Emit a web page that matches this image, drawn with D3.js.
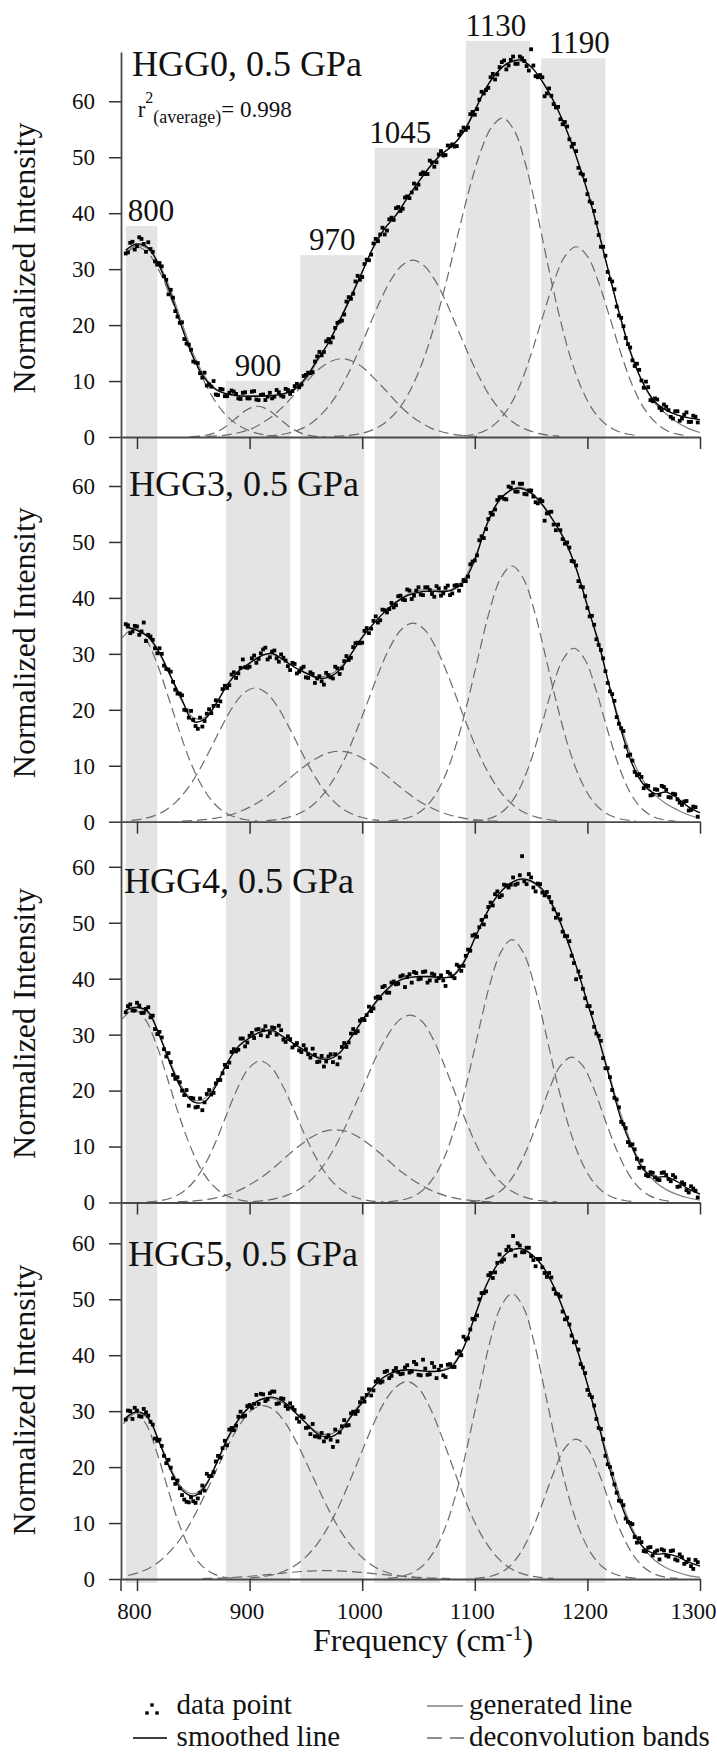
<!DOCTYPE html>
<html>
<head>
<meta charset="utf-8">
<script src="https://cdn.jsdelivr.net/npm/d3@7"></script>
<style>
body { margin: 0; background: #fff; }
text { font-family: "Liberation Serif", "Times New Roman", serif; fill: #111; }
</style>
</head>
<body>
<script>
// ---- data ----
var panelNames = ["HGG0, 0.5 GPa", "HGG3, 0.5 GPa", "HGG4, 0.5 GPa", "HGG5, 0.5 GPa"];
var yTicks = [0, 10, 20, 30, 40, 50, 60];
var xTicks = [800, 900, 1000, 1100, 1200, 1300];
var peakLabels = ["800", "900", "970", "1045", "1130", "1190"];
var peakBands = [[790, 818], [879, 936], [945, 1002], [1011, 1069], [1092, 1149], [1159, 1216]];
var peakBandTops = [37.7, 10, 32.5, 51.7, 70.8, 67.7];

// frequency grids (cm-1)
var lineFreq = d3.range(790, 1301, 10);
var pointFreqA = d3.range(790, 1299, 4);
var pointFreqB = d3.range(792, 1297, 4);

// measured points, two interleaved sets per sample
var pointsA0 = [32.8, 34.7, 33.5, 35.7, 34.5, 34.8, 33.1, 30.8, 30.5, 28.1,
  26.3, 22.5, 20.4, 17.5, 16.5, 13.5, 13.2, 10.6, 9.2, 9.0,
  7.6, 8.6, 7.3, 7.9, 8.1, 6.9, 7.9, 6.9, 8.1, 6.7,
  7.5, 6.6, 7.9, 7.2, 8.0, 7.2, 8.4, 8.2, 9.5, 9.4,
  11.1, 11.4, 13.5, 15.2, 15.2, 17.5, 17.8, 20.4, 20.8, 24.2,
  24.7, 27.8, 28.1, 30.9, 31.6, 34.6, 35.0, 37.4, 36.9, 39.2,
  40.9, 40.4, 42.8, 42.7, 45.3, 45.1, 47.3, 47.0, 49.1, 49.1,
  51.1, 50.4, 52.0, 51.9, 54.0, 55.3, 55.3, 58.1, 58.6, 61.7,
  62.0, 64.3, 63.9, 66.1, 67.3, 66.4, 68.0, 66.7, 67.7, 66.3,
  69.3, 64.5, 64.7, 60.9, 62.3, 59.5, 59.0, 55.9, 55.5, 51.9,
  51.1, 47.1, 45.9, 42.1, 40.4, 36.1, 34.0, 29.5, 27.8, 23.3,
  21.3, 17.7, 16.0, 12.7, 12.0, 8.8, 8.9, 6.4, 6.7, 4.8,
  5.4, 3.6, 4.6, 2.9, 4.0, 2.7, 3.8, 2.6];
var pointsB0 = [33.0, 34.9, 34.1, 35.4, 33.1, 33.6, 31.4, 31.1, 28.7, 25.5,
  24.9, 21.5, 20.5, 16.7, 15.6, 13.3, 11.4, 11.5, 9.4, 10.0,
  7.5, 8.5, 7.3, 8.3, 7.7, 6.8, 8.0, 6.9, 8.2, 6.6,
  7.6, 7.2, 6.9, 8.4, 7.4, 8.6, 7.7, 9.1, 8.9, 10.9,
  11.5, 11.6, 14.4, 14.6, 17.1, 16.9, 19.5, 20.6, 21.9, 25.0,
  25.6, 28.8, 28.6, 31.7, 32.6, 35.4, 36.2, 36.2, 38.9, 38.8,
  41.1, 40.8, 43.0, 43.7, 44.4, 47.0, 47.0, 49.4, 48.3, 50.5,
  50.3, 52.1, 52.3, 52.0, 54.6, 54.9, 57.7, 57.6, 60.3, 61.4,
  62.4, 64.9, 64.8, 67.0, 65.7, 67.4, 66.7, 68.0, 67.2, 65.5,
  66.4, 64.3, 64.3, 61.4, 61.0, 58.9, 56.8, 56.3, 53.2, 52.4,
  48.1, 46.9, 43.4, 41.8, 38.3, 34.0, 32.4, 28.2, 26.4, 21.7,
  19.8, 16.6, 13.7, 13.1, 10.1, 9.9, 6.6, 6.9, 5.2, 5.8,
  4.8, 3.3, 4.6, 3.3, 4.4, 2.7, 3.6];
var pointsA1 = [35.3, 33.7, 35.0, 33.4, 35.6, 33.4, 32.5, 30.1, 30.0, 27.3,
  26.8, 23.6, 22.9, 20.0, 18.6, 18.2, 16.6, 17.0, 19.3, 19.4,
  21.7, 21.5, 24.3, 24.4, 26.7, 26.5, 29.0, 27.5, 29.2, 28.4,
  30.1, 31.1, 29.4, 30.6, 28.6, 29.3, 27.8, 28.4, 26.5, 27.4,
  25.8, 26.7, 24.8, 26.0, 24.5, 26.2, 25.6, 27.4, 27.4, 29.6,
  29.3, 31.9, 31.9, 34.1, 33.7, 35.9, 35.6, 37.9, 37.4, 39.1,
  38.7, 40.4, 39.6, 41.3, 40.4, 41.9, 40.5, 41.9, 40.7, 42.1,
  40.4, 41.8, 40.5, 42.2, 41.3, 43.2, 43.8, 46.5, 47.6, 51.0,
  52.3, 55.2, 55.8, 58.0, 57.7, 59.9, 60.6, 59.0, 60.4, 58.5,
  59.2, 57.1, 57.6, 53.8, 55.3, 53.1, 53.1, 50.5, 49.9, 46.6,
  45.8, 42.0, 40.3, 36.7, 35.2, 31.6, 29.2, 24.8, 22.8, 18.7,
  16.7, 13.4, 12.0, 8.9, 8.5, 6.0, 6.4, 4.8, 5.7, 6.4,
  5.7, 4.3, 4.9, 3.4, 3.6, 2.0, 2.7, 0.9];
var pointsB1 = [35.1, 34.0, 34.9, 34.0, 32.3, 33.1, 31.0, 31.0, 27.9, 27.2,
  25.0, 22.9, 22.6, 19.9, 19.8, 17.1, 18.6, 18.0, 20.1, 20.7,
  20.7, 23.7, 23.9, 26.3, 25.7, 27.5, 27.6, 27.7, 29.7, 29.1,
  30.8, 29.0, 30.4, 29.2, 29.9, 28.8, 27.1, 28.2, 26.8, 27.7,
  25.7, 26.4, 25.6, 25.1, 26.6, 25.8, 27.7, 26.4, 28.7, 28.9,
  31.2, 32.0, 32.0, 34.6, 34.5, 36.7, 36.0, 37.8, 38.0, 38.3,
  40.3, 39.7, 41.5, 39.8, 41.3, 40.6, 41.9, 41.4, 40.2, 41.7,
  40.8, 42.2, 40.8, 42.3, 42.3, 43.0, 46.0, 46.7, 50.3, 50.7,
  54.1, 54.9, 57.5, 58.0, 57.6, 59.7, 59.0, 60.4, 58.6, 59.2,
  58.1, 56.9, 57.3, 55.1, 55.4, 52.1, 52.1, 49.7, 49.0, 46.5,
  43.0, 41.9, 38.2, 36.8, 32.6, 30.7, 26.9, 23.3, 21.6, 17.5,
  16.2, 11.8, 10.9, 8.3, 8.0, 6.5, 4.7, 5.8, 4.8, 6.2,
  4.4, 5.0, 4.0, 3.0, 3.7, 2.1, 2.6];
var pointsA2 = [34.0, 35.4, 34.3, 35.2, 33.9, 34.9, 33.4, 30.1, 29.5, 26.1,
  25.1, 22.1, 21.5, 19.2, 17.3, 18.6, 17.1, 16.5, 19.4, 19.3,
  21.3, 21.9, 24.6, 25.0, 27.4, 27.3, 29.3, 28.6, 30.3, 30.9,
  29.9, 31.5, 30.3, 31.2, 31.6, 29.1, 29.7, 27.7, 28.5, 26.9,
  27.4, 25.9, 26.4, 25.2, 24.3, 26.1, 25.1, 24.7, 27.8, 27.8,
  30.2, 30.3, 32.5, 32.6, 35.0, 34.7, 36.8, 38.5, 37.5, 39.3,
  39.0, 40.4, 38.5, 40.8, 41.2, 39.9, 41.2, 39.3, 40.9, 39.6,
  40.6, 38.7, 40.9, 40.1, 42.2, 42.3, 45.2, 47.7, 47.5, 50.5,
  51.1, 53.6, 55.1, 54.6, 56.8, 56.3, 58.1, 57.0, 61.9, 56.9,
  58.1, 55.6, 56.9, 54.9, 54.6, 52.4, 51.5, 48.4, 47.6, 44.1,
  39.9, 40.3, 36.5, 35.1, 31.4, 29.8, 25.8, 24.0, 20.1, 18.4,
  14.4, 13.3, 10.2, 9.5, 6.2, 6.2, 4.7, 5.3, 4.1, 5.3,
  4.9, 3.8, 4.5, 2.9, 3.3, 1.8, 2.5, 0.9];
var pointsB2 = [35.1, 34.3, 35.7, 33.9, 34.6, 33.1, 31.0, 30.5, 27.4, 26.7,
  22.8, 22.4, 20.0, 20.1, 18.7, 17.0, 18.6, 17.9, 20.1, 19.6,
  21.9, 23.1, 24.2, 26.9, 27.0, 29.3, 27.9, 29.8, 29.4, 31.0,
  30.8, 29.7, 31.3, 30.0, 30.8, 28.7, 29.2, 28.1, 27.2, 28.1,
  26.5, 27.5, 25.1, 26.2, 25.2, 26.5, 26.5, 25.9, 28.5, 28.6,
  31.0, 30.6, 32.8, 33.5, 34.2, 36.6, 36.5, 38.7, 37.5, 39.5,
  39.1, 40.6, 40.3, 39.3, 41.0, 40.0, 41.3, 39.7, 40.7, 40.1,
  39.7, 41.2, 40.4, 42.5, 41.4, 44.1, 45.0, 47.9, 49.2, 49.7,
  52.8, 53.1, 55.6, 54.9, 56.7, 56.8, 56.8, 58.5, 57.4, 58.7,
  56.3, 57.0, 55.4, 55.5, 53.7, 50.9, 50.6, 47.6, 46.7, 42.8,
  41.3, 38.2, 35.1, 33.9, 30.2, 28.9, 24.0, 22.4, 18.7, 17.0,
  14.0, 10.8, 10.4, 7.8, 7.5, 4.9, 5.4, 4.5, 4.0, 5.4,
  4.2, 4.9, 2.8, 3.6, 2.2, 2.9, 2.1];
var pointsA3 = [28.5, 30.0, 30.6, 29.1, 30.4, 29.2, 27.6, 24.7, 23.8, 20.7,
  19.9, 17.0, 16.2, 14.2, 13.7, 13.9, 14.4, 16.7, 18.8, 18.4,
  21.0, 21.7, 24.7, 26.7, 26.6, 29.0, 29.0, 30.9, 30.6, 32.9,
  33.1, 31.8, 33.2, 33.5, 31.4, 32.2, 30.4, 30.7, 28.7, 29.2,
  27.0, 25.9, 25.5, 25.3, 24.6, 25.7, 23.6, 24.6, 27.3, 27.4,
  29.6, 29.5, 31.6, 31.7, 33.9, 33.7, 35.7, 35.3, 37.2, 36.3,
  37.7, 36.6, 37.8, 36.9, 38.8, 36.5, 39.2, 36.5, 38.6, 35.9,
  38.1, 36.1, 38.4, 37.9, 40.7, 43.3, 43.0, 46.5, 47.1, 51.1,
  51.4, 54.7, 54.8, 58.0, 57.1, 59.4, 61.3, 60.0, 58.4, 59.2,
  57.7, 55.9, 57.2, 54.7, 54.7, 51.8, 50.9, 47.8, 46.7, 43.5,
  42.4, 38.4, 36.8, 32.9, 31.0, 27.0, 25.0, 20.5, 18.8, 15.4,
  13.9, 10.8, 10.0, 7.5, 7.3, 5.0, 5.6, 4.2, 5.1, 5.3,
  4.2, 5.0, 3.5, 4.4, 2.7, 3.5, 1.8, 3.0];
var pointsB3 = [30.1, 28.6, 30.1, 29.0, 29.8, 28.1, 25.1, 24.9, 22.0, 21.3,
  18.0, 17.6, 15.0, 13.8, 14.6, 13.6, 15.4, 15.8, 18.4, 19.1,
  22.0, 23.4, 23.9, 27.0, 27.4, 29.9, 29.2, 31.1, 31.3, 31.3,
  33.0, 32.1, 33.5, 31.3, 32.3, 30.9, 31.4, 30.2, 28.1, 28.9,
  27.1, 27.7, 25.5, 26.1, 25.3, 24.9, 26.7, 26.2, 28.4, 27.5,
  29.9, 30.0, 32.3, 32.9, 32.8, 35.3, 35.1, 37.0, 35.9, 37.2,
  37.0, 36.7, 38.2, 37.1, 38.4, 36.4, 37.6, 36.6, 37.9, 37.4,
  36.4, 38.3, 37.9, 40.3, 40.0, 42.8, 44.6, 46.4, 50.0, 51.1,
  54.3, 53.8, 56.5, 56.7, 58.8, 58.8, 57.8, 59.6, 58.4, 59.2,
  57.0, 57.2, 55.7, 54.0, 53.9, 51.0, 50.5, 46.4, 45.5, 42.3,
  41.0, 37.8, 33.8, 32.5, 28.6, 26.8, 22.0, 20.0, 16.9, 14.0,
  13.2, 10.2, 9.8, 6.5, 6.6, 4.9, 5.7, 4.8, 3.5, 5.1,
  4.0, 5.1, 3.3, 3.9, 3.0, 2.3, 3.4];

// smoothed lines
var smooth0 = [33.4, 34.5, 33.8, 30.5, 25.5, 19.5, 14.2, 10.5, 8.5, 7.7,
  7.4, 7.3, 7.3, 7.4, 7.7, 8.6, 10.6, 13.8, 16.8, 20.8,
  25, 29.5, 34, 37.3, 39.6, 42.7, 45.6, 48.3, 50.5, 52,
  54.5, 58.3, 62.4, 65.2, 66.9, 67.4, 66.2, 63.5, 60, 55.6,
  50.2, 44, 36.6, 28.6, 20.8, 14.1, 9.4, 6.3, 4.8, 3.9, 3.4, 3.1];
var smooth1 = [34.8, 34.2, 33, 30.2, 26, 21.8, 17.9, 18.3, 21, 24.4,
  26.9, 28.3, 29.6, 30.1, 28.9, 27.6, 26.6, 25.7, 25.8, 27.1,
  29.9, 33, 35.4, 37.5, 39.2, 40.4, 41, 41.2, 41.1, 41.4,
  42.8, 46.8, 52.8, 57, 59, 59.6, 58.7, 56.6, 53.7, 50.3,
  45.3, 38.5, 32, 23.8, 16.3, 10.2, 6.6, 5.0, 5.3, 4.2, 2.6, 1.6];
var smooth2 = [34.4, 34.9, 34.1, 29.8, 24.5, 20.2, 18, 18, 20.8, 24.9,
  27.9, 29.4, 30.5, 30.8, 29.6, 28.3, 27, 25.9, 25.6, 26.7,
  29.5, 32.5, 35.3, 37.7, 39.4, 40.2, 40.4, 40.4, 40.2, 40.4,
  42.8, 47.2, 51.5, 54.8, 56.8, 57.8, 57.5, 56, 52.8, 48,
  42.3, 35.7, 29.2, 22, 14.8, 9.7, 5.8, 4.6, 4.6, 3.7, 2.4, 1.5];
var smooth3 = [28.8, 29.9, 28.8, 24.3, 19.4, 15.9, 14.8, 16.4, 20.4, 25,
  28.5, 30.8, 32.1, 32.5, 31.7, 29.9, 27.9, 26, 25.3, 26.3,
  29, 31.5, 34.3, 36.2, 37.1, 37.4, 37.3, 37.1, 37.2, 38,
  41.3, 47, 52.4, 56.2, 58.5, 59.1, 58.1, 56, 52.3, 47.4,
  41.6, 34.8, 27.5, 19.5, 13.3, 8.5, 5.6, 4.5, 4.5, 4, 3, 2.3];

// generated (fitted) lines
var fit0 = [33.0, 34.2, 33.6, 30.8, 26.2, 20.3, 14.9, 10.9, 8.6, 7.6,
  7.3, 7.3, 7.4, 7.4, 7.6, 8.4, 10.3, 13.5, 16.9, 21,
  25.3, 29.6, 33.8, 37.2, 39.8, 42.7, 45.5, 48.2, 50.4, 52.1,
  54.7, 58.5, 62.3, 65.2, 66.8, 67.2, 66.1, 63.6, 60.1, 55.7,
  50.1, 43.8, 36.5, 28.6, 21, 14.4, 9.4, 6.0, 4.1, 2.6, 1.5, 0.8];
var fit1 = [34.5, 34.4, 33.1, 30, 25.8, 21.5, 18.6, 18.6, 21.1, 24.3,
  26.8, 28.4, 29.6, 29.9, 28.9, 27.6, 26.5, 25.9, 26.2, 27.5,
  30, 32.8, 35.3, 37.5, 39.3, 40.6, 41.3, 41.5, 41.3, 41.6,
  43.3, 47.2, 52.6, 56.8, 59, 59.8, 58.9, 56.8, 53.8, 50.1,
  45.2, 38.8, 31.6, 24, 17, 11.2, 7.2, 4.8, 3.2, 2.1, 1.2, 0.6];
var fit2 = [34.2, 34.8, 33.8, 29.9, 24.9, 20.6, 18.3, 18.6, 21.2, 24.9,
  27.8, 29.5, 30.5, 30.6, 29.6, 28.3, 27.1, 26.1, 25.9, 26.9,
  29.4, 32.4, 35.1, 37.5, 39.3, 40.1, 40.3, 40.2, 40.1, 40.6,
  43.1, 47.3, 51.6, 54.9, 56.9, 57.7, 57.3, 55.7, 52.6, 47.9,
  42.3, 35.9, 29.4, 22.5, 15.6, 10.1, 6.1, 3.7, 2.3, 1.4, 0.8, 0.4];
var fit3 = [28.3, 29.7, 28.6, 24.5, 19.8, 16.3, 15.2, 16.7, 20.3, 24.7,
  28.3, 30.7, 32, 32.3, 31.4, 29.8, 27.9, 26.3, 25.8, 26.8,
  29.2, 31.9, 34.4, 36.1, 37, 37.3, 37.2, 37.1, 37.3, 38.3,
  41.4, 46.8, 52.3, 56.3, 58.5, 59, 58, 55.9, 52.4, 47.5,
  41.6, 34.9, 27.8, 20.6, 14.1, 9, 5.5, 3.3, 2.0, 1.2, 0.6, 0.3];

// deconvolution bands: [first frequency, values every 10 cm-1]
var bands0 = [
  [790, [32.8, 34, 32.8, 29.6, 24.9, 19.6, 14.3, 9.8, 6.2, 3.7, 2.1, 1.1, 0.5, 0.2, 0.1]],
  [847, [0.04, 0.17, 0.6, 1.6, 3.2, 4.8, 5.5, 4.8, 3.2, 1.6, 0.6, 0.17, 0.04]],
  [862, [0.1, 0.21, 0.44, 0.85, 1.5, 2.6, 4.0, 5.9, 8.1, 10.2, 12.2, 13.5, 14, 13.5, 12.2, 10.2, 8.1, 5.9, 4.0, 2.6, 1.5, 0.85, 0.44, 0.21, 0.1]],
  [915, [0.16, 0.35, 0.72, 1.4, 2.5, 4.3, 6.8, 10.3, 14.5, 19.2, 23.9, 27.9, 30.6, 31.6, 30.6, 27.9, 23.9, 19.2, 14.5, 10.3, 6.8, 4.3, 2.5, 1.4, 0.72, 0.35, 0.16]],
  [975, [0.1, 0.22, 0.47, 0.96, 1.85, 3.35, 5.7, 9.3, 14.2, 20.5, 28, 36.2, 44.2, 50.9, 55.4, 57, 54.8, 48.8, 40.3, 30.7, 21.7, 14.2, 8.6, 4.8, 2.5, 1.2, 0.54, 0.24]],
  [1090, [0.19, 0.5, 1.2, 2.7, 5.2, 9.2, 14.8, 21.3, 27.6, 32.3, 34, 32.3, 27.6, 21.3, 14.8, 9.2, 5.2, 2.7, 1.2, 0.5, 0.19]]
];
var bands1 = [
  [787, [32.9, 34.5, 32.9, 28.7, 22.8, 16.6, 10.9, 6.6, 3.6, 1.8, 0.84, 0.35, 0.13]],
  [795, [0.22, 0.5, 1.05, 2.0, 3.6, 5.95, 9.1, 12.9, 16.9, 20.5, 23, 23.9, 23, 20.5, 16.9, 12.9, 9.1, 5.95, 3.6, 2.0, 1.05, 0.5, 0.22]],
  [840, [0.1, 0.19, 0.36, 0.64, 1.07, 1.7, 2.6, 3.75, 5.2, 6.8, 8.5, 10.1, 11.4, 12.3, 12.6, 12.3, 11.4, 10.1, 8.5, 6.8, 5.2, 3.75, 2.6, 1.7, 1.07, 0.64, 0.36, 0.19, 0.1]],
  [915, [0.18, 0.39, 0.81, 1.56, 2.8, 4.8, 7.7, 11.5, 16.3, 21.5, 26.8, 31.3, 34.4, 35.5, 34.4, 31.3, 26.8, 21.5, 16.3, 11.5, 7.7, 4.8, 2.8, 1.56, 0.81, 0.39, 0.18]],
  [1023, [0.12, 0.35, 0.88, 2.0, 4.2, 7.9, 13.5, 20.9, 29.4, 37.6, 43.5, 45.7, 43.5, 37.6, 29.4, 20.9, 13.5, 7.9, 4.2, 2.0, 0.88, 0.35, 0.12]],
  [1098, [0.1, 0.33, 0.95, 2.4, 5.2, 9.9, 16.3, 23.3, 28.9, 31, 28.9, 23.3, 16.3, 9.9, 5.2, 2.4, 0.95, 0.33, 0.1]]
];
var bands2 = [
  [787, [32.8, 34.5, 32.8, 28.4, 22.2, 15.8, 10.2, 5.9, 3.15, 1.5, 0.66, 0.26, 0.09]],
  [809, [0.1, 0.28, 0.72, 1.66, 3.4, 6.3, 10.4, 15.4, 20.3, 23.9, 25.3, 24.2, 21, 16.7, 12.1, 8.0, 4.8, 2.66, 1.34, 0.61, 0.26, 0.1]],
  [836, [0.1, 0.2, 0.37, 0.66, 1.1, 1.76, 2.7, 3.9, 5.3, 7.0, 8.8, 10.4, 11.8, 12.7, 13, 12.7, 11.8, 10.4, 8.8, 7.0, 5.3, 3.9, 2.7, 1.76, 1.1, 0.66, 0.37, 0.2, 0.1]],
  [903, [0.17, 0.35, 0.68, 1.27, 2.24, 3.75, 5.9, 8.9, 12.7, 17.1, 21.7, 26.3, 30, 32.6, 33.5, 32.4, 29.2, 24.5, 19.3, 14.1, 9.6, 6.1, 3.65, 2.0, 1.05, 0.51, 0.23, 0.1]],
  [1023, [0.13, 0.36, 0.9, 2.06, 4.3, 8.1, 13.9, 21.5, 30.3, 38.7, 44.7, 47, 44.7, 38.7, 30.3, 21.5, 13.9, 8.1, 4.3, 2.06, 0.9, 0.36, 0.13]],
  [1096, [0.15, 0.44, 1.14, 2.6, 5.3, 9.4, 14.6, 20.2, 24.4, 26, 24.4, 20.2, 14.6, 9.4, 5.3, 2.6, 1.14, 0.44, 0.15]]
];
var bands3 = [
  [788, [27.7, 29.8, 27.7, 22.4, 15.7, 9.5, 5.0, 2.3, 0.91, 0.31, 0.09]],
  [792, [0.63, 1.17, 2.07, 3.5, 5.5, 8.2, 11.7, 15.8, 20.1, 24.3, 27.8, 30.2, 31, 30.2, 27.8, 24.3, 20.1, 15.8, 11.7, 8.2, 5.5, 3.5, 2.07, 1.17, 0.63, 0.32, 0.16]],
  [858, [0.08, 0.13, 0.2, 0.31, 0.45, 0.62, 0.81, 1.01, 1.2, 1.36, 1.46, 1.5, 1.46, 1.36, 1.2, 1.01, 0.81, 0.62, 0.45, 0.31, 0.2, 0.13, 0.08]],
  [900, [0.18, 0.37, 0.72, 1.34, 2.36, 3.95, 6.25, 9.4, 13.3, 18, 22.9, 27.7, 31.7, 34.3, 35.3, 34.1, 30.7, 25.8, 20.3, 14.9, 10.1, 6.5, 3.85, 2.1, 1.1, 0.53, 0.25, 0.1]],
  [1023, [0.14, 0.39, 0.98, 2.24, 4.66, 8.8, 15, 23.4, 32.8, 42, 48.6, 51, 48.6, 42, 32.8, 23.4, 15, 8.8, 4.66, 2.24, 0.98, 0.39, 0.14]],
  [1100, [0.1, 0.31, 0.87, 2.1, 4.5, 8.35, 13.5, 19, 23.4, 25, 23.4, 19, 13.5, 8.35, 4.5, 2.1, 0.87, 0.31, 0.1]]
];

var panels = [
  {name: panelNames[0], pointsA: pointsA0, pointsB: pointsB0, smooth: smooth0, fit: fit0, bands: bands0},
  {name: panelNames[1], pointsA: pointsA1, pointsB: pointsB1, smooth: smooth1, fit: fit1, bands: bands1},
  {name: panelNames[2], pointsA: pointsA2, pointsB: pointsB2, smooth: smooth2, fit: fit2, bands: bands2},
  {name: panelNames[3], pointsA: pointsA3, pointsB: pointsB3, smooth: smooth3, fit: fit3, bands: bands3}
];

// ---- layout ----
var width = 717, height = 1758;
var left = 121, right = 700;
var zeroY = [437, 821.7, 1202.5, 1579];
var topY = [52, 437, 821.7, 1202.5];
var unit = 5.595;          // px per intensity unit
var bandBottom = 1583;
var titleX = [132, 129, 124, 128];
var titleY = [76, 496, 893, 1266];
var labelDx = [0, 0, 0, -7, -2, 6];
var font = '"Liberation Serif", "Times New Roman", serif';

var x = d3.scaleLinear().domain([785.8, 1300]).range([left, right]);

var svg = d3.select('body').append('svg')
  .attr('width', width)
  .attr('height', height);

// grey peak regions, drawn once across all panels
var yTop = d3.scaleLinear().domain([0, 1]).range([zeroY[0], zeroY[0] - unit]);
svg.append('g').selectAll('rect')
  .data(peakBands)
  .enter().append('rect')
  .attr('x', function(d) { return x(d[0]); })
  .attr('width', function(d) { return x(d[1]) - x(d[0]); })
  .attr('y', function(d, i) { return yTop(peakBandTops[i]); })
  .attr('height', function(d, i) { return bandBottom - yTop(peakBandTops[i]); })
  .attr('fill', '#e4e4e4');

// peak labels
svg.append('g').selectAll('text')
  .data(peakLabels)
  .enter().append('text')
  .attr('x', function(d, i) {
    return (i === 0 ? x(peakBands[i][0]) + 2 : x((peakBands[i][0] + peakBands[i][1]) / 2)) + labelDx[i];
  })
  .attr('y', function(d, i) { return yTop(peakBandTops[i]) - 5; })
  .style('text-anchor', function(d, i) { return i === 0 ? 'start' : 'middle'; })
  .style('font-size', '31px')
  .text(function(d) { return d; });

panels.forEach(function(p, k) {
  var y = d3.scaleLinear()
    .domain([0, (zeroY[k] - topY[k]) / unit])
    .range([zeroY[k], topY[k]]);

  var line = d3.line()
    .x(function(d) { return x(d[0]); })
    .y(function(d) { return y(d[1]); })
    .curve(d3.curveCatmullRom);

  var g = svg.append('g').attr('class', 'panel');

  // deconvolution bands
  p.bands.forEach(function(b) {
    var pts = b[1].map(function(v, i) { return [b[0] + i * 10, v]; });
    g.append('path')
      .attr('d', line(pts))
      .attr('fill', 'none')
      .attr('stroke', '#6a6a6a')
      .attr('stroke-width', 1.2)
      .attr('stroke-dasharray', '10,5');
  });

  // generated line
  g.append('path')
    .attr('d', line(lineFreq.map(function(f, i) { return [f, p.fit[i]]; })))
    .attr('fill', 'none')
    .attr('stroke', '#808080')
    .attr('stroke-width', 1.2);

  // smoothed line
  g.append('path')
    .attr('d', line(lineFreq.map(function(f, i) { return [f, p.smooth[i]]; })))
    .attr('fill', 'none')
    .attr('stroke', '#000')
    .attr('stroke-width', 1.3);

  // data points
  var pts = pointFreqA.map(function(f, i) { return [f, p.pointsA[i]]; })
    .concat(pointFreqB.map(function(f, i) { return [f, p.pointsB[i]]; }))
    .filter(function(d) { return d[1] != null; });
  g.append('g').selectAll('rect')
    .data(pts)
    .enter().append('rect')
    .attr('x', function(d) { return x(d[0]) - 1.9; })
    .attr('y', function(d) { return y(d[1]) - 1.9; })
    .attr('width', 3.8)
    .attr('height', 3.8)
    .attr('fill', '#000');

  // axes
  var ya = g.append('g')
    .attr('transform', 'translate(' + left + ',0)')
    .call(d3.axisLeft(y).tickValues(yTicks).tickSize(12).tickSizeOuter(0).tickPadding(14));
  var xa = g.append('g')
    .attr('transform', 'translate(0,' + zeroY[k] + ')')
    .call(d3.axisBottom(x).tickValues(xTicks).tickSize(12).tickSizeOuter(0).tickPadding(12)
      .tickFormat(k === 3 ? d3.format('d') : function() { return ''; }));
  [ya, xa].forEach(function(a) {
    a.attr('font-family', font).attr('font-size', 23).attr('color', '#111');
    a.select('.domain').attr('stroke', '#4a4a4a').attr('stroke-width', 1.8);
    a.selectAll('.tick line').attr('stroke', '#333').attr('stroke-width', 1.5);
  });
  xa.selectAll('.tick text').attr('dx', -3);
  xa.selectAll('.tick:last-of-type text').attr('text-anchor', 'end').attr('dx', 16);

  // panel title
  g.append('text')
    .attr('x', titleX[k])
    .attr('y', titleY[k])
    .style('font-size', '36px')
    .text(p.name);

  // y axis title
  g.append('text')
    .attr('transform', 'translate(35,' + (zeroY[k] - 32 * unit) + ') rotate(-90)')
    .style('text-anchor', 'middle')
    .style('font-size', '32px')
    .text('Normalized Intensity');
});

// axis stub below the last panel
svg.append('line')
  .attr('x1', left).attr('x2', left)
  .attr('y1', zeroY[3]).attr('y2', zeroY[3] + 12)
  .attr('stroke', '#333').attr('stroke-width', 1.5);

// r^2 note in the first panel
var r2 = svg.append('text').attr('x', 137.7).attr('y', 116.7).style('font-size', '23px');
r2.append('tspan').text('r');
r2.append('tspan').attr('dy', -13.7).style('font-size', '16px').text('2');
r2.append('tspan').attr('dy', 20).style('font-size', '18px').text('(average)');
r2.append('tspan').attr('dy', -6.3).text('= 0.998');

// x axis title
var xt = svg.append('text')
  .attr('x', 423)
  .attr('y', 1651)
  .style('text-anchor', 'middle')
  .style('font-size', '32px');
xt.append('tspan').text('Frequency (cm');
xt.append('tspan').attr('dy', -11).style('font-size', '20px').text('-1');
xt.append('tspan').attr('dy', 11).text(')');

// legend
var leg = svg.append('g').style('font-size', '29px');
[[147, 1713], [157, 1713], [152, 1705]].forEach(function(d) {
  leg.append('rect').attr('x', d[0] - 1.7).attr('y', d[1] - 1.7)
    .attr('width', 3.4).attr('height', 3.4).attr('fill', '#000');
});
leg.append('text').attr('x', 176.6).attr('y', 1714).text('data point');
leg.append('line').attr('x1', 133).attr('x2', 167).attr('y1', 1738).attr('y2', 1738)
  .attr('stroke', '#000').attr('stroke-width', 1.5);
leg.append('text').attr('x', 176.6).attr('y', 1746).text('smoothed line');
leg.append('line').attr('x1', 427).attr('x2', 463).attr('y1', 1706).attr('y2', 1706)
  .attr('stroke', '#808080').attr('stroke-width', 1.4);
leg.append('text').attr('x', 469).attr('y', 1714).text('generated line');
leg.append('line').attr('x1', 427).attr('x2', 464).attr('y1', 1738).attr('y2', 1738)
  .attr('stroke', '#6a6a6a').attr('stroke-width', 1.4).attr('stroke-dasharray', '15,8');
leg.append('text').attr('x', 469).attr('y', 1746).text('deconvolution bands');
</script>
</body>
</html>
